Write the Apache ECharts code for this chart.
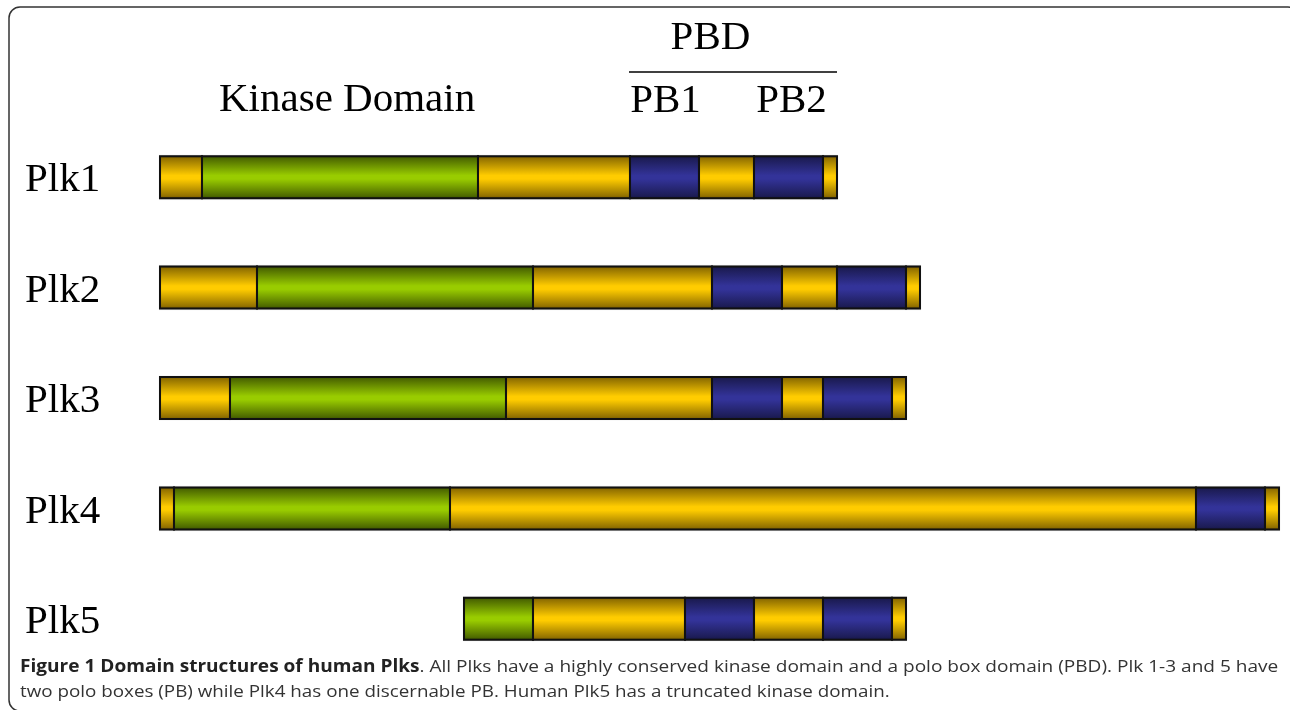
<!DOCTYPE html>
<html>
<head>
<meta charset="utf-8">
<script src="https://cdn.jsdelivr.net/npm/echarts@6/dist/echarts.min.js"></script>
<style>
html,body{margin:0;padding:0;background:#fff;}
#chart{width:1290px;height:710px;}
</style>
</head>
<body>
<div id="chart"></div>
<script>
// Proteins (rows)
const proteins = ['Plk1', 'Plk2', 'Plk3', 'Plk4', 'Plk5'];
// Domain boundaries along each protein (relative length units)
const plk1Bounds = [0, 42, 318, 470, 539, 594, 663, 677];
const plk2Bounds = [0, 97, 373, 552, 622, 677, 746, 760];
const plk3Bounds = [0, 70, 346, 552, 622, 663, 732, 746];
const plk4Bounds = [0, 14, 290, 1036, 1105, 1119];
const plk5Bounds = [304, 373, 525, 594, 663, 732, 746];
// Domain type of each segment: L = linker, K = kinase domain, P = polo box
const plk1Types = ['L', 'K', 'L', 'P', 'L', 'P', 'L'];
const plk2Types = ['L', 'K', 'L', 'P', 'L', 'P', 'L'];
const plk3Types = ['L', 'K', 'L', 'P', 'L', 'P', 'L'];
const plk4Types = ['L', 'K', 'L', 'P', 'L'];
const plk5Types = ['K', 'L', 'P', 'L', 'P', 'L'];
// Header annotation texts
const kinaseLabel = 'Kinase Domain';
const pbdLabel = 'PBD';
const pbLabels = ['PB1', 'PB2'];
const captionBold = 'Figure 1 Domain structures of human Plks';
const captionRest1 = '. All Plks have a highly conserved kinase domain and a polo box domain (PBD). Plk 1-3 and 5 have';
const captionLine2 = 'two polo boxes (PB) while Plk4 has one discernable PB. Human Plk5 has a truncated kinase domain.';

const allBounds = [plk1Bounds, plk2Bounds, plk3Bounds, plk4Bounds, plk5Bounds];
const allTypes = [plk1Types, plk2Types, plk3Types, plk4Types, plk5Types];
const typeIndex = { L: 0, K: 1, P: 2 };
const segData = [];
allBounds.forEach(function (b, row) {
  for (let i = 0; i < b.length - 1; i++) {
    segData.push([row, b[i], b[i + 1], typeIndex[allTypes[row][i]]]);
  }
});

function grad(dark, light) {
  return {
    type: 'linear', x: 0, y: 0, x2: 0, y2: 1,
    colorStops: [
      { offset: 0, color: dark },
      { offset: 0.46, color: light },
      { offset: 0.54, color: light },
      { offset: 1, color: dark }
    ]
  };
}
const fills = [
  grad('#7d5f00', '#ffcc00'),
  grad('#3e5500', '#99cc00'),
  grad('#181848', '#333399')
];

const chart = echarts.init(document.getElementById('chart'));
const serif = '"Liberation Serif", "Times New Roman", serif';
const sans = '"Open Sans", sans-serif';

chart.setOption({
  animation: false,
  grid: { left: 160, right: 11, top: 122, height: 552 },
  xAxis: {
    type: 'value', min: 0, max: 1119,
    show: false
  },
  yAxis: {
    type: 'category', data: proteins, inverse: true,
    axisLine: { show: false }, axisTick: { show: false }, splitLine: { show: false },
    axisLabel: {
      align: 'left', margin: 135,
      formatter: '{p|{value}}',
      rich: {
        p: { fontFamily: serif, fontSize: 41, color: '#000', padding: [7, 0, 0, 0] }
      }
    }
  },
  series: [{
    type: 'custom',
    encode: { x: [1, 2], y: 0 },
    data: segData,
    renderItem: function (params, api) {
      const row = api.value(0);
      const p0 = api.coord([api.value(1), row]);
      const p1 = api.coord([api.value(2), row]);
      const h = 42;
      return {
        type: 'rect',
        shape: { x: p0[0], y: p0[1] - h / 2, width: p1[0] - p0[0], height: h },
        style: {
          fill: fills[api.value(3)],
          stroke: '#111',
          lineWidth: 2,
          shadowColor: 'rgba(0,0,0,0.25)',
          shadowBlur: 1
        }
      };
    }
  }]
});

// Header annotations positioned from the Plk1 row through the axes
const pb1Start = chart.convertToPixel({ gridIndex: 0 }, [plk1Bounds[3], 0])[0];
const pb1End = chart.convertToPixel({ gridIndex: 0 }, [plk1Bounds[4], 0])[0];
const pb2Start = chart.convertToPixel({ gridIndex: 0 }, [plk1Bounds[5], 0])[0];
const pb2End = chart.convertToPixel({ gridIndex: 0 }, [plk1Bounds[6], 0])[0];
const protEnd = chart.convertToPixel({ gridIndex: 0 }, [plk1Bounds[7], 0])[0];

chart.setOption({
  graphic: [
    {
      type: 'rect', silent: true,
      shape: { x: 9, y: 7, width: 1290, height: 704, r: 11 },
      style: { fill: 'none', stroke: '#333', lineWidth: 1.5 }
    },
    {
      type: 'text', x: 219, y: 100,
      style: { text: kinaseLabel, font: '41px ' + serif, fill: '#000', verticalAlign: 'middle', align: 'left' }
    },
    {
      type: 'text', x: (pb1Start + protEnd) / 2 - 23, y: 38,
      style: { text: pbdLabel, font: '41px ' + serif, fill: '#000', verticalAlign: 'middle', align: 'center' }
    },
    {
      type: 'line',
      shape: { x1: pb1Start - 1, y1: 72, x2: protEnd, y2: 72 },
      style: { stroke: '#000', lineWidth: 1.5 }
    },
    {
      type: 'text', x: (pb1Start + pb1End) / 2 + 1, y: 101,
      style: { text: pbLabels[0], font: '41px ' + serif, fill: '#000', verticalAlign: 'middle', align: 'center' }
    },
    {
      type: 'text', x: (pb2Start + pb2End) / 2 + 3, y: 101,
      style: { text: pbLabels[1], font: '41px ' + serif, fill: '#000', verticalAlign: 'middle', align: 'center' }
    },
    {
      type: 'text', x: 20, y: 667, scaleX: 1.121,
      style: {
        text: '{b|' + captionBold + '}{r|' + captionRest1 + '}',
        verticalAlign: 'middle',
        rich: {
          b: { fontFamily: sans, fontWeight: 'bold', fontSize: 17, fill: '#222' },
          r: { fontFamily: sans, fontSize: 17, fill: '#333' }
        }
      }
    },
    {
      type: 'text', x: 20, y: 692, scaleX: 1.106,
      style: {
        text: captionLine2, fontFamily: sans, fontSize: 17, fill: '#333',
        verticalAlign: 'middle'
      }
    }
  ]
});
</script>
</body>
</html>
